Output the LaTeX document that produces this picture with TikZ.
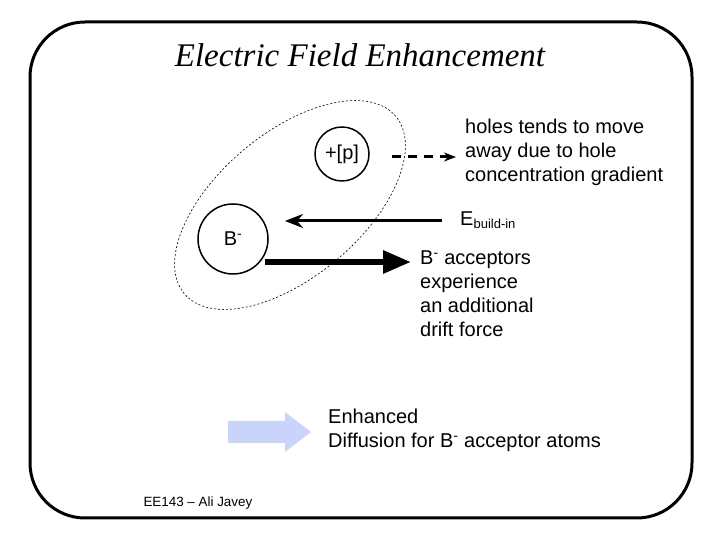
\documentclass[tikz,border=0pt]{standalone}
\usepackage{fontspec}
\setmainfont{Liberation Sans}
\newfontfamily\serif{Liberation Serif}
\usetikzlibrary{arrows.meta}
\definecolor{lblue}{RGB}{200,212,250}
\begin{document}
\begin{tikzpicture}[x=1pt,y=1pt,
  txt/.style={font=\fontsize{20}{24}\selectfont,align=left,inner sep=0pt},
  ball/.style={circle,draw,line width=1.5pt,font=\fontsize{20}{24}\selectfont,inner sep=0pt}]
\useasboundingbox (0,0) rectangle (720,540);
\fill[white] (0,0) rectangle (720,540);
\draw[line width=3pt,rounded corners=55pt] (30,22) rectangle (692,518);
\node[font=\serif\itshape\fontsize{33}{38}\selectfont] (title) at (360,485) {Electric Field Enhancement};
\draw[dash pattern=on 2pt off 2pt,line width=0.6pt,rotate around={40:(290,335)}] (290,335) ellipse [x radius=138, y radius=72];
\node[ball,minimum size=54pt] (p) at (342,386) {+[p]};
\node[ball,minimum size=70pt] (b) at (233,301) {B\textsuperscript{-}};
\coordinate (ps) at (392,383);
\coordinate (pe) at (456,383);
\node[txt,anchor=west] (holes) at (465,388) {holes tends to move\\away due to hole\\concentration gradient};
\draw[line width=3pt,dash pattern=on 9pt off 7pt,-{Stealth[length=12pt,width=9pt]}] (ps) -- (pe);
\node[txt,anchor=west] (E) at (460,320) {E\textsubscript{\fontsize{13}{13}\selectfont build-in}};
\coordinate (es) at (442,319);
\coordinate (ee) at (285,319);
\draw[line width=3pt,-{Stealth[length=18pt,width=14pt]}] (es) -- (ee);
\node[txt,anchor=north west] (acc) at (420,289) {B\textsuperscript{-} acceptors\\experience\\an additional\\drift force};
\coordinate (bs) at (265,278);
\coordinate (be) at (411,278);
\draw[line width=6pt,-{Triangle[length=28pt,width=22pt]}] (bs) -- (be);
\fill[lblue] (228,97) -- (285,97) -- (285,88) -- (311,108) -- (285,128) -- (285,119) -- (228,119) -- cycle;
\node[txt,anchor=north west] (enh) at (328,131) {Enhanced\\Diffusion for B\textsuperscript{-} acceptor atoms};
\node[font=\fontsize{13.4}{15}\selectfont,anchor=west] (foot) at (140,37) {EE143 – Ali Javey};
\end{tikzpicture}
\end{document}
